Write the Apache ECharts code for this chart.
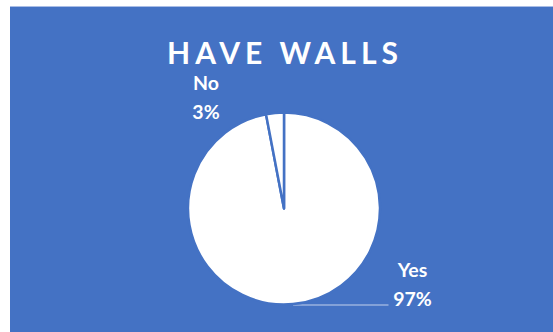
<!DOCTYPE html>
<html>
<head>
<meta charset="utf-8">
<script src="https://cdn.jsdelivr.net/npm/echarts@6/dist/echarts.min.js"></script>
<style>
  html, body { margin: 0; padding: 0; background: #ffffff; }
  #frame { position: absolute; left: 10px; top: 6px; width: 543px; height: 326px;
           border-top: 1px solid #a9bde6; box-sizing: border-box; }
  #chart { width: 100%; height: 100%; }
</style>
</head>
<body>
<div id="frame"><div id="chart"></div></div>
<script>
// Survey answers: does the site have walls?
const chartTitle = 'HAVE WALLS';
const categories = ['Yes', 'No'];
const shares = [97, 3];

const blue = '#4472C4';
const chart = echarts.init(document.getElementById('chart'), null, { renderer: 'svg' });

// Where each answer's label block sits (centre x, top y)
const labelSpots = {
  Yes: { x: 402.5, y: 248, leader: true },
  No: { x: 196, y: 60.5, leader: false }
};

chart.setOption({
  backgroundColor: blue,
  title: {
    text: chartTitle,
    left: 'center',
    top: 25,
    textStyle: { color: '#ffffff', fontFamily: 'Lato', fontWeight: 'bold', fontSize: 30, lineHeight: 30 }
  },
  series: [{
    type: 'pie',
    center: [274, 201.5],
    radius: 96,
    startAngle: 90,
    clockwise: true,
    avoidLabelOverlap: false,
    silent: true,
    data: categories.map((name, i) => ({
      name,
      value: shares[i],
      labelLine: { show: labelSpots[name].leader }
    })),
    itemStyle: { color: '#ffffff', borderColor: blue, borderWidth: 2.5 },
    label: {
      show: true,
      formatter: '{b}\n{d}%',
      color: '#ffffff',
      fontFamily: 'Lato',
      fontWeight: 'bold',
      fontSize: 19.5,
      lineHeight: 29,
      align: 'center'
    },
    labelLine: { length: 0, length2: 0, lineStyle: { color: 'rgba(255,255,255,0.45)', width: 1.5 } },
    labelLayout: (params) => {
      const spot = labelSpots[categories[params.dataIndex]];
      const out = { x: spot.x, y: spot.y, align: 'center', verticalAlign: 'top' };
      const pts = params.labelLinePoints;
      if (spot.leader && pts && pts.length) {
        // horizontal leader from the slice edge to just left of the label
        const start = pts[0];
        const endX = spot.x - 24;
        out.labelLinePoints = [
          [start[0], start[1] + 1],
          [(start[0] + endX) / 2, start[1] + 1],
          [endX, start[1] + 1]
        ];
      }
      return out;
    },
    emphasis: { disabled: true }
  }]
});

// Spread the title letters apart, keeping the word centred
chart.on('finished', () => {
  document.querySelectorAll('#chart text').forEach((t) => {
    if (t.textContent === chartTitle) {
      t.style.letterSpacing = '5px';
      t.setAttribute('dx', '3.5');
    }
  });
});
</script>
</body>
</html>
